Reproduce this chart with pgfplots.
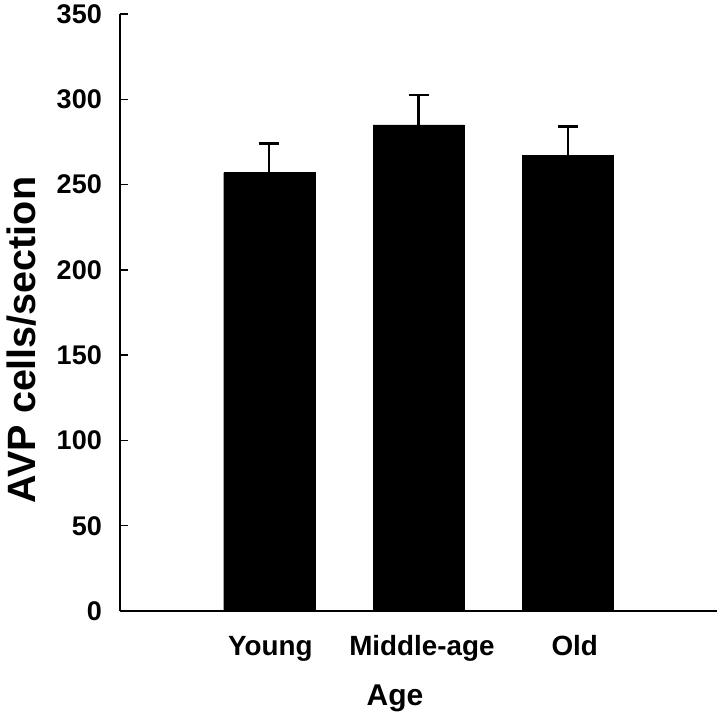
\documentclass[border=0pt]{standalone}
\usepackage{fontspec}
\setmainfont{Liberation Sans}
\usepackage{pgfplots}
\pgfplotsset{compat=1.18}
\begin{document}
\begin{tikzpicture}
\useasboundingbox (-120pt,-107pt) rectangle (600pt,611pt);
\begin{axis}[
  at={(0pt,0pt)}, anchor=south west,
  scale only axis,
  width=597pt, height=597pt,
  xmin=0, xmax=4, ymin=0, ymax=350,
  axis x line=bottom, axis y line=left,
  axis line style={-, line width=2pt, black},
  ytick={0,50,...,350},
  xtick={1.007,2.023,3.047},
  xticklabels={Young,Middle-age,Old},
  x tick style={draw=none},
  y tick style={line width=1.5pt, black},
  tick align=inside,
  major tick length=8pt,
  /pgf/number format/assume math mode=true,
  yticklabel style={font=\fontsize{27}{27}\selectfont\bfseries, inner sep=0pt, xshift=-18pt, anchor=east},
  xticklabel style={font=\fontsize{27.8}{27.8}\selectfont\bfseries, anchor=base, yshift=-44pt},
  xlabel={Age},
  xlabel style={font=\fontsize{30}{30}\selectfont\bfseries, at={(rel axis cs:0.4606,0)}, anchor=base, yshift=-94pt},
  ylabel={AVP cells/section},
  ylabel style={font=\fontsize{39.5}{39.5}\selectfont\bfseries, at={(rel axis cs:-0.142,0.454)}, anchor=base, rotate=0},
  clip=false,
]
\addplot[ybar, bar width=91pt, draw=black, fill=black,
  error bars/.cd, y dir=plus, y explicit,
  error bar style={line width=2.5pt, black},
  error mark options={rotate=90, line width=2.5pt, mark size=10pt, black}]
  coordinates {(1,257) +- (0,17) (2,285) +- (0,17.5) (3,267) +- (0,17)};
\end{axis}
\end{tikzpicture}
\end{document}
